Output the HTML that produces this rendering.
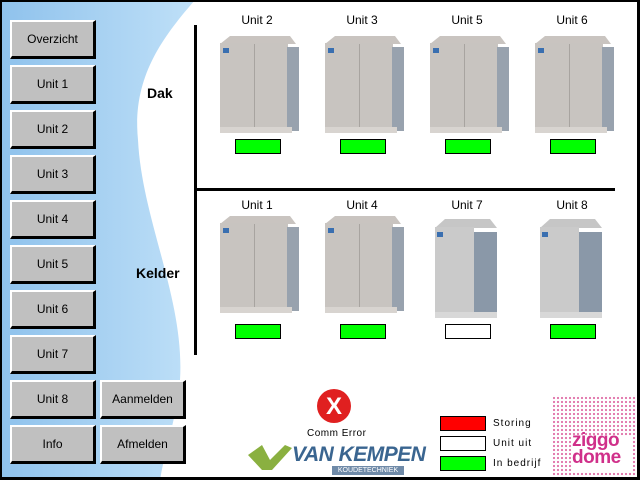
<!DOCTYPE html>
<html><head><meta charset="utf-8"><style>
*{margin:0;padding:0;box-sizing:border-box}
body{width:640px;height:480px;overflow:hidden;background:#000;font-family:"Liberation Sans",sans-serif}
#f{position:absolute;left:2px;top:2px;width:635px;height:475px;background:#fff;overflow:hidden}
.b{position:absolute;width:86px;height:39px;background:#c0c0c0;border-top:2px solid #fff;border-left:2px solid #fff;border-right:3px solid #000;border-bottom:3px solid #000;font-size:12px;color:#000;text-align:center;line-height:34px}
.t{position:absolute;font-size:12px;color:#000;text-align:center;width:80px}
.s{position:absolute;width:46px;height:15px;border:1px solid #000;background:#00ff00}
.k{position:absolute;font-size:14px;font-weight:bold}
.l{position:absolute;font-size:10px;letter-spacing:1px}
</style></head><body><div id="f">
<svg width="640" height="480" style="position:absolute;left:-2px;top:-2px">
<defs><linearGradient id="g" x1="0" x2="1"><stop offset="0" stop-color="#8fc2ec"/><stop offset="1" stop-color="#bfe0f8"/></linearGradient>
<pattern id="zp" width="4" height="4" patternUnits="userSpaceOnUse"><rect width="4" height="4" fill="#fff"/><circle cx="2" cy="2" r="1.1" fill="#e070a8"/></pattern>
<g id="u"><path d="M230 36 L290 36 L296 44 L220 44 Z" fill="#c9c4c0"/><rect x="220" y="43" width="68" height="85" fill="#c8c4c0"/><rect x="287" y="47" width="12" height="84" fill="#98a2ae"/><rect x="254" y="44" width="1" height="84" fill="#a8a4a0"/><rect x="220" y="127" width="72" height="6" fill="#d8d4d0"/><rect x="223" y="48" width="6" height="5" fill="#3a6fb0"/></g>
<g id="v"><path d="M445 219 L490 219 L497 228 L435 228 Z" fill="#c6c6c6"/><rect x="435" y="227" width="39" height="86" fill="#cacaca"/><rect x="474" y="232" width="23" height="82" fill="#8a98a8"/><rect x="435" y="312" width="62" height="6" fill="#d8d8d8"/><rect x="437" y="232" width="6" height="5" fill="#3a6fb0"/></g></defs>
<path d="M0 0 L195 0 C160 40 132 80 138 140 C142 220 185 300 180 380 C176 420 165 450 160 480 L0 480 Z" fill="url(#g)"/>
<rect x="194" y="25" width="3" height="330" fill="#000"/>
<rect x="197" y="188" width="418" height="3" fill="#000"/>
<use href="#u"/><use href="#u" x="105"/><use href="#u" x="210"/><use href="#u" x="315"/>
<use href="#u" y="180"/><use href="#u" x="105" y="180"/>
<use href="#v"/><use href="#v" x="105"/>
<circle cx="334" cy="406" r="17" fill="#e02020"/><text x="334" y="414" font-size="24" font-weight="bold" fill="#fff" text-anchor="middle" font-family="Liberation Sans">X</text>
<path d="M248 455 L262 445 L270 460 L285 445 L292 448 L272 470 L262 470 Z" fill="#8ab040"/>
<rect x="553" y="395" width="83" height="82" fill="url(#zp)"/>
<rect x="572" y="436" width="60" height="36" fill="#fff"/>
</svg>
<div class="b" style="left:8px;top:18px">Overzicht</div>
<div class="b" style="left:8px;top:63px">Unit 1</div>
<div class="b" style="left:8px;top:108px">Unit 2</div>
<div class="b" style="left:8px;top:153px">Unit 3</div>
<div class="b" style="left:8px;top:198px">Unit 4</div>
<div class="b" style="left:8px;top:243px">Unit 5</div>
<div class="b" style="left:8px;top:288px">Unit 6</div>
<div class="b" style="left:8px;top:333px">Unit 7</div>
<div class="b" style="left:8px;top:378px">Unit 8</div>
<div class="b" style="left:8px;top:423px">Info</div>
<div class="b" style="left:98px;top:378px">Aanmelden</div>
<div class="b" style="left:98px;top:423px">Afmelden</div>
<div class="k" style="left:145px;top:83px">Dak</div>
<div class="k" style="left:134px;top:263px">Kelder</div>
<div class="t" style="left:215px;top:11px">Unit 2</div>
<div class="t" style="left:320px;top:11px">Unit 3</div>
<div class="t" style="left:425px;top:11px">Unit 5</div>
<div class="t" style="left:530px;top:11px">Unit 6</div>
<div class="t" style="left:215px;top:196px">Unit 1</div>
<div class="t" style="left:320px;top:196px">Unit 4</div>
<div class="t" style="left:425px;top:196px">Unit 7</div>
<div class="t" style="left:530px;top:196px">Unit 8</div>
<div class="s" style="left:233px;top:137px"></div>
<div class="s" style="left:338px;top:137px"></div>
<div class="s" style="left:443px;top:137px"></div>
<div class="s" style="left:548px;top:137px"></div>
<div class="s" style="left:233px;top:322px"></div>
<div class="s" style="left:338px;top:322px"></div>
<div class="s" style="left:443px;top:322px;background:#fff"></div>
<div class="s" style="left:548px;top:322px"></div>
<div class="l" style="left:305px;top:426px;letter-spacing:0.5px">Comm Error</div>
<div style="position:absolute;left:290px;top:441px;font-size:21px;font-weight:bold;font-style:italic;color:#3a6590;letter-spacing:-0.5px">VAN KEMPEN</div>
<div style="position:absolute;left:330px;top:464px;width:72px;height:9px;background:#6f8aa8;font-size:7px;color:#fff;text-align:center;line-height:9px">KOUDETECHNIEK</div>
<div class="s" style="left:438px;top:414px;background:#ff0000"></div>
<div class="s" style="left:438px;top:434px;background:#fff"></div>
<div class="s" style="left:438px;top:454px"></div>
<div class="l" style="left:491px;top:416px">Storing</div>
<div class="l" style="left:491px;top:436px">Unit uit</div>
<div class="l" style="left:491px;top:456px">In bedrijf</div>
<div style="position:absolute;left:570px;top:430px;font-size:19px;font-weight:bold;color:#d0308a;line-height:17px;letter-spacing:-0.5px">ziggo<br>dome</div>
</div></body></html>
